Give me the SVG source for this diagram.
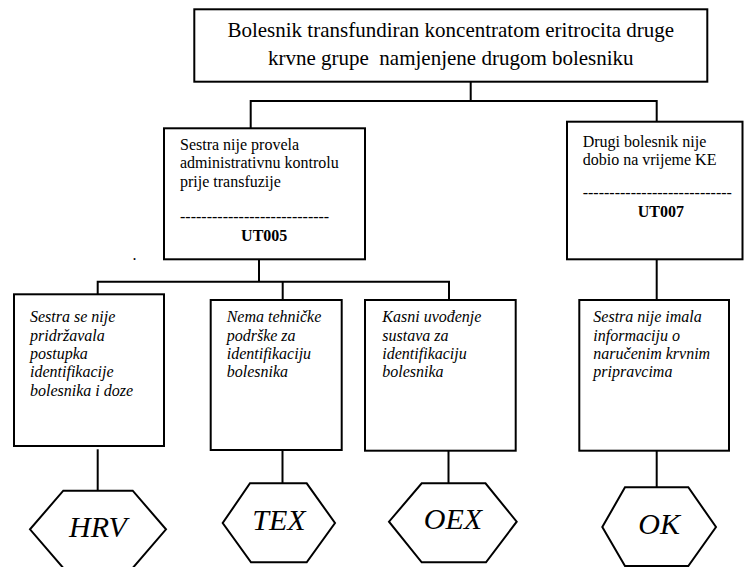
<svg xmlns="http://www.w3.org/2000/svg" width="744" height="567" viewBox="0 0 744 567" font-family="Liberation Serif, Times New Roman, serif">
<style>
.box{fill:#fff;stroke:#000;stroke-width:2}
.ln{fill:none;stroke:#000;stroke-width:2}
text{font-family:'Liberation Serif','Times New Roman',serif;fill:#000}
.t{font-size:16px}
.ti{font-size:16px;font-style:italic}
.tt{font-size:21px;text-anchor:middle;white-space:pre}
.b{font-weight:bold;text-anchor:middle}
.hx{font-size:30px;font-style:italic;text-anchor:middle}
</style>
<rect width="744" height="567" fill="#fff"/>
<g id="connectors">
<polyline class="ln" points="470.7,81.7 470.7,101 250.7,101 250.7,128"/>
<polyline class="ln" points="470.7,101 656.7,101 656.7,122"/>
<polyline class="ln" points="259,259.3 259,281.7"/>
<polyline class="ln" points="97.7,294.3 97.7,281.7 449,281.7 449,300"/>
<line class="ln" x1="282.7" y1="281.7" x2="282.7" y2="300"/>
<line class="ln" x1="656.7" y1="259.3" x2="656.7" y2="300"/>
<line class="ln" x1="97.7" y1="449.3" x2="97.7" y2="490.7"/>
<line class="ln" x1="282.5" y1="450" x2="282.5" y2="483.3"/>
<line class="ln" x1="448.5" y1="446" x2="448.5" y2="483.3"/>
<line class="ln" x1="656.7" y1="450" x2="656.7" y2="487.3"/>
</g>
<g id="top">
<rect class="box" x="194.3" y="9.3" width="513" height="72.4"/>
<text class="tt" x="450.8" y="37.3">Bolesnik transfundiran koncentratom eritrocita druge</text>
<text class="tt" x="450.8" y="65">krvne grupe  namjenjene drugom bolesniku</text>
</g>
<g id="ut005">
<rect class="box" x="164" y="128.3" width="201" height="131"/>
<text class="t" x="180" y="150">Sestra nije provela</text>
<text class="t" x="180" y="168.3">administrativnu kontrolu</text>
<text class="t" x="180" y="186.6">prije transfuzije</text>
<text class="t" x="180" y="222">----------------------------</text>
<text class="t b" x="264.2" y="240.7">UT005</text>
</g>
<g id="ut007">
<rect class="box" x="567" y="121.7" width="175.5" height="137.6"/>
<text class="t" x="582.7" y="147">Drugi bolesnik nije</text>
<text class="t" x="582.7" y="164.5">dobio na vrijeme KE</text>
<text class="t" x="582.7" y="198">----------------------------</text>
<text class="t b" x="660.8" y="216.7">UT007</text>
</g>
<text class="t" x="132.5" y="260">.</text>
<g id="c1">
<rect class="box" x="14" y="294.3" width="150" height="151.7"/>
<text class="ti" x="30" y="322.3">Sestra se nije</text>
<text class="ti" x="30" y="340.7">pridržavala</text>
<text class="ti" x="30" y="359">postupka</text>
<text class="ti" x="30" y="377.3">identifikacije</text>
<text class="ti" x="30" y="395.7">bolesnika i doze</text>
</g>
<g id="c2">
<rect class="box" x="210.7" y="300" width="131" height="150"/>
<text class="ti" x="226.7" y="322.3">Nema tehničke</text>
<text class="ti" x="226.7" y="340.7">podrške za</text>
<text class="ti" x="226.7" y="359">identifikaciju</text>
<text class="ti" x="226.7" y="377.3">bolesnika</text>
</g>
<g id="c3">
<rect class="box" x="365" y="300" width="150.7" height="150.7"/>
<text class="ti" x="382.3" y="322.3">Kasni uvođenje</text>
<text class="ti" x="382.3" y="340.7">sustava za</text>
<text class="ti" x="382.3" y="359">identifikaciju</text>
<text class="ti" x="382.3" y="377.3">bolesnika</text>
</g>
<g id="c4">
<rect class="box" x="579.3" y="300" width="149.7" height="150.7"/>
<text class="ti" x="593.3" y="322.3">Sestra nije imala</text>
<text class="ti" x="593.3" y="340.7">informaciju o</text>
<text class="ti" x="593.3" y="359">naručenim krvnim</text>
<text class="ti" x="593.3" y="377.3">pripravcima</text>
</g>
<g id="hrv">
<polygon class="box" points="63.3,490.7 132.7,490.7 166,529.3 132.7,568 63.3,568 30,529.3"/>
<text class="hx" x="98" y="536.7">HRV</text>
</g>
<g id="tex">
<polygon class="box" points="250,483.3 306.7,483.3 335,523 306.7,562.3 251,562.3 222.7,523"/>
<text class="hx" x="279" y="530">TEX</text>
</g>
<g id="oex">
<polygon class="box" points="421.7,483.3 485.5,483.3 516.7,521.7 486,562.3 421.7,562.3 389,521.7"/>
<text class="hx" x="453" y="529.3">OEX</text>
</g>
<g id="ok">
<polygon class="box" points="625,487.3 688.3,487.3 716,527 688.3,566 625,566 602.3,527"/>
<text class="hx" x="659.2" y="534">OK</text>
</g>
</svg>
